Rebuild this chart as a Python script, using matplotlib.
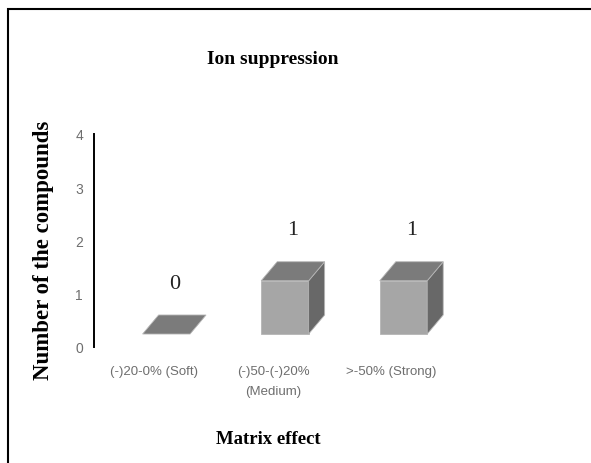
import numpy as np
import matplotlib
matplotlib.use("Agg")
import matplotlib.pyplot as plt
from matplotlib.patches import Polygon, Rectangle

categories = ["(-)20-0% (Soft)", "(-)50-(-)20%\n(Medium)", ">-50% (Strong)"]
counts = [0, 1, 1]
y_ticks = [0, 1, 2, 3, 4]

# pseudo-3D column geometry (data units)
bar_w = 0.4
shift = -0.1
depth_x = 0.135
depth_y = 0.357
floor = 0.244

front_col = "#a6a6a6"
top_col = "#7b7b7b"
side_col = "#686868"
edge_col = "#b5b5b5"
tick_col = "#6e6e6e"

W, H = 591, 464
fig = plt.figure(figsize=(W / 100, H / 100), dpi=100)
fig.patch.set_facecolor("white")

ax = fig.add_axes([94 / W, (H - 348) / H, (560 - 94) / W, (348 - 135) / H])
ax.set_facecolor("none")

pos = np.arange(len(categories))
for i, v in zip(pos, counts):
    x0 = i + shift
    x1 = x0 + bar_w
    y0 = floor
    y1 = floor + v
    front = [(x0, y0), (x1, y0), (x1, y1), (x0, y1)]
    top = [(x0, y1), (x1, y1), (x1 + depth_x, y1 + depth_y), (x0 + depth_x, y1 + depth_y)]
    side = [(x1, y0), (x1 + depth_x, y0 + depth_y), (x1 + depth_x, y1 + depth_y), (x1, y1)]
    if v > 0:
        ax.add_patch(Polygon(front, closed=True, facecolor=front_col, edgecolor=edge_col, lw=0.6))
        ax.add_patch(Polygon(side, closed=True, facecolor=side_col, edgecolor=edge_col, lw=0.6))
    ax.add_patch(Polygon(top, closed=True, facecolor=top_col, edgecolor=edge_col, lw=0.6))
    ax.text(x0 + (bar_w + depth_x) / 2, y1 + depth_y + 0.42, str(v),
            ha="center", va="bottom", fontsize=16, family="Liberation Serif", color="#222222")

ax.set_xlim(-0.51, 3.42)
ax.set_ylim(0, 4)
ax.set_yticks(y_ticks)
ax.set_xticks(pos)
ax.set_xticklabels(categories, fontsize=9.5, family="Liberation Sans", color=tick_col,
                   linespacing=1.9)
ax.set_yticklabels([str(t) for t in y_ticks], fontsize=10, family="Liberation Sans", color=tick_col)
ax.tick_params(axis="x", length=0, pad=13)
ax.tick_params(axis="y", length=0, pad=8)
for s in ["top", "right", "bottom"]:
    ax.spines[s].set_visible(False)
ax.spines["left"].set_linewidth(1.4)
ax.spines["left"].set_color("black")

fig.text(273 / W, 1 - 60 / H, "Ion suppression", ha="center", va="center",
         fontsize=14, fontweight="bold", family="Liberation Serif")
fig.text(268 / W, 1 - 440 / H, "Matrix effect", ha="center", va="center",
         fontsize=13.5, fontweight="bold", family="Liberation Serif")
fig.text(44 / W, 1 - 250 / H, "Number of the compounds", ha="center", va="center",
         rotation=90, fontsize=16.5, fontweight="bold", family="Liberation Serif")

# outer frame
fig.add_artist(Rectangle((8 / W, -0.1), 1.2, (H - 10) / H + 0.1, transform=fig.transFigure,
                         fill=False, edgecolor="black", lw=1.5))

fig.savefig("out.png", dpi=100)
